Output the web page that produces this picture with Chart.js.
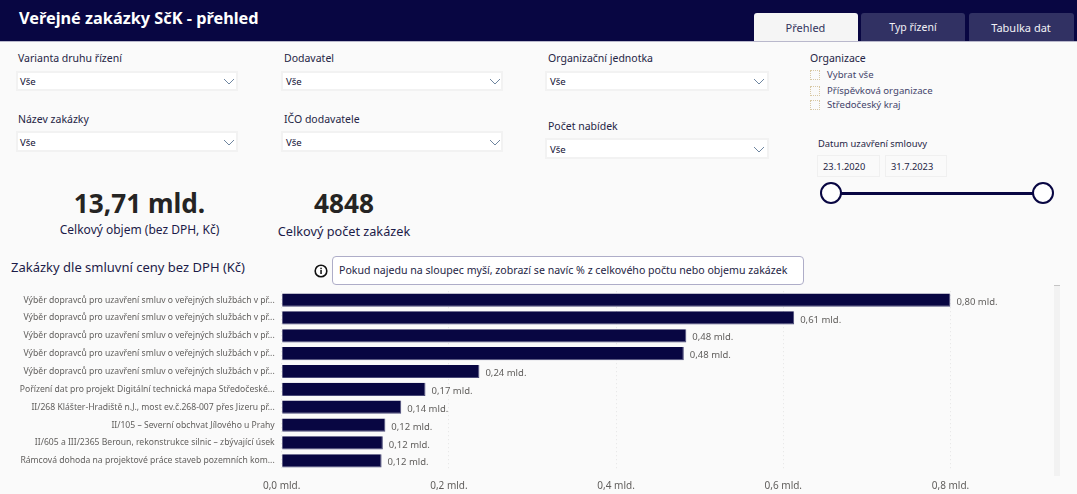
<!DOCTYPE html>
<html lang="cs"><head><meta charset="utf-8">
<script src="https://cdn.jsdelivr.net/npm/chart.js@4"></script>
<style>
html,body{margin:0;padding:0;width:1077px;height:494px;overflow:hidden;background:#fafafa;font-family:"Noto Sans",sans-serif;color:#12113f}
.a{position:absolute;white-space:nowrap}
.t{line-height:16px;transform:translateY(-50%)}
.lab{font-size:10.5px;color:#252545}
.box{background:#fff;border:2px solid #f2f2f2;box-sizing:border-box}
.vse{font-size:9.6px;color:#111133}
.tab{top:13px;height:27.5px;border-radius:3px 3px 0 0;text-align:center;line-height:29px;font-size:11px;background:#313163;color:#f2f2f6;box-sizing:border-box}
.cb{width:10px;height:10px;border:1px dotted #d8c8a4;box-sizing:border-box;left:810px}
.cbt{left:827px;font-size:9.6px;color:#44446a}
.kpi{font-size:26.2px;font-weight:700;color:#252423;transform:translate(-50%,-50%);line-height:32px}
.sub{font-size:12px;color:#1c1b48;transform:translate(-50%,-50%);line-height:16px}
.db{background:#fafafa;border:1px solid #f0f0f0;box-sizing:border-box;font-size:9.3px;color:#252545;line-height:21px;padding-left:5px}
.dot{width:22px;height:22px;border:2px solid #080642;border-radius:50%;background:#fff;box-sizing:border-box;top:182px}
svg.ch{position:absolute;width:12px;height:7px}
</style></head><body>
<div class="a" style="left:0;top:0;width:1077px;height:40.5px;background:#080642;border-bottom:1px solid #b9b8cc"></div>
<div class="a t" style="left:19px;top:18px;font-size:16.3px;font-weight:700;color:#fff">Veřejné zakázky SčK - přehled</div>
<div class="a tab" style="left:753.5px;width:104px;background:#f5f5f5;color:#33335c">Přehled</div>
<div class="a tab" style="left:861px;width:104px;font-size:10.5px">Typ řízení</div>
<div class="a tab" style="left:968.5px;width:105px">Tabulka dat</div>

<div class="a t lab" style="left:18px;top:58px">Varianta druhu řízení</div>
<div class="a box" style="left:16px;top:71px;width:222px;height:20px"></div>
<div class="a t vse" style="left:20px;top:82px">Vše</div>
<div class="a t lab" style="left:18px;top:119px">Název zakázky</div>
<div class="a box" style="left:16px;top:131px;width:222px;height:21px"></div>
<div class="a t vse" style="left:20px;top:143px">Vše</div>
<div class="a t lab" style="left:284px;top:58px">Dodavatel</div>
<div class="a box" style="left:281px;top:71px;width:222px;height:20px"></div>
<div class="a t vse" style="left:286px;top:82px">Vše</div>
<div class="a t lab" style="left:284px;top:119px">IČO dodavatele</div>
<div class="a box" style="left:281px;top:131px;width:222px;height:21px"></div>
<div class="a t vse" style="left:286px;top:143px">Vše</div>
<div class="a t lab" style="left:548px;top:58px">Organizační jednotka</div>
<div class="a box" style="left:545px;top:71px;width:224px;height:20px"></div>
<div class="a t vse" style="left:550px;top:82px">Vše</div>
<div class="a t lab" style="left:548px;top:126px">Počet nabídek</div>
<div class="a box" style="left:545px;top:138px;width:224px;height:21px"></div>
<div class="a t vse" style="left:550px;top:150px">Vše</div>
<svg class="ch" style="left:223px;top:78px" viewBox="0 0 12 7"><path d="M1 1l5 5 5-5" fill="none" stroke="#6f86a0"/></svg>
<svg class="ch" style="left:223px;top:139px" viewBox="0 0 12 7"><path d="M1 1l5 5 5-5" fill="none" stroke="#6f86a0"/></svg>
<svg class="ch" style="left:489px;top:78px" viewBox="0 0 12 7"><path d="M1 1l5 5 5-5" fill="none" stroke="#6f86a0"/></svg>
<svg class="ch" style="left:489px;top:139px" viewBox="0 0 12 7"><path d="M1 1l5 5 5-5" fill="none" stroke="#6f86a0"/></svg>
<svg class="ch" style="left:753px;top:78px" viewBox="0 0 12 7"><path d="M1 1l5 5 5-5" fill="none" stroke="#6f86a0"/></svg>
<svg class="ch" style="left:753px;top:146px" viewBox="0 0 12 7"><path d="M1 1l5 5 5-5" fill="none" stroke="#6f86a0"/></svg>

<div class="a t lab" style="left:810px;top:58px">Organizace</div>
<div class="a cb" style="top:70px"></div><div class="a t cbt" style="top:75.3px">Vybrat vše</div>
<div class="a cb" style="top:86px"></div><div class="a t cbt" style="top:90.7px">Příspěvková organizace</div>
<div class="a cb" style="top:100px"></div><div class="a t cbt" style="top:105.3px">Středočeský kraj</div>
<div class="a t" style="left:818px;top:143.5px;font-size:9.4px;color:#252545">Datum uzavření smlouvy</div>
<div class="a db" style="left:817px;top:155px;width:63px;height:22px">23.1.2020</div>
<div class="a db" style="left:885px;top:155px;width:62px;height:22px">31.7.2023</div>
<div class="a" style="left:833px;top:192px;width:213px;height:2.5px;background:#080642"></div>
<div class="a dot" style="left:820px"></div>
<div class="a dot" style="left:1032px"></div>

<div class="a kpi" style="left:139.5px;top:203px">13,71 mld.</div>
<div class="a sub" style="left:139.5px;top:229.5px">Celkový objem (bez DPH, Kč)</div>
<div class="a kpi" style="left:344px;top:203px">4848</div>
<div class="a sub" style="left:344px;top:231px;font-size:12.7px">Celkový počet zakázek</div>

<div class="a t" style="left:11px;top:266.7px;font-size:13px;color:#1c1b48">Zakázky dle smluvní ceny bez DPH (Kč)</div>
<svg class="a" style="left:314px;top:264px;width:14px;height:14px" viewBox="0 0 14 14"><circle cx="7" cy="7" r="5.8" fill="#fff" stroke="#111" stroke-width="1.6"/><rect x="6.3" y="6" width="1.5" height="4" fill="#111"/><rect x="6.3" y="3.7" width="1.5" height="1.5" fill="#111"/></svg>
<div class="a" style="left:332px;top:256px;width:472px;height:29px;background:#fff;border:1px solid #aeadc8;border-radius:4px;box-sizing:border-box;font-size:10.6px;line-height:27px;padding-left:6px;color:#252545">Pokud najedu na sloupec myší, zobrazí se navíc % z celkového počtu nebo objemu zakázek</div>

<div class="a" style="left:0;top:279px;width:1077px;height:215px"><canvas id="c" width="1077" height="215" style="display:block;width:1077px;height:215px"></canvas></div>
<div class="a" style="left:1054px;top:285px;width:6px;height:191px;background:#f2f2f2;border-top:1px solid #c4c4c4;box-sizing:border-box"></div>

<script>
const categories = [
 "Výběr dopravců pro uzavření smluv o veřejných službách v př...",
 "Výběr dopravců pro uzavření smluv o veřejných službách v př...",
 "Výběr dopravců pro uzavření smluv o veřejných službách v př...",
 "Výběr dopravců pro uzavření smluv o veřejných službách v př...",
 "Výběr dopravců pro uzavření smluv o veřejných službách v př...",
 "Pořízení dat pro projekt Digitální technická mapa Středočeské...",
 "II/268 Klášter-Hradiště n.J., most ev.č.268-007 přes Jizeru př...",
 "II/105 – Severní obchvat Jílového u Prahy",
 "II/605 a III/2365 Beroun, rekonstrukce silnic – zbývající úsek",
 "Rámcová dohoda na projektové práce staveb pozemních kom..."
];
const values = [0.80,0.613,0.484,0.481,0.2365,0.172,0.143,0.124,0.121,0.1195];
const valueLabels = ["0,80 mld.","0,61 mld.","0,48 mld.","0,48 mld.","0,24 mld.","0,17 mld.","0,14 mld.","0,12 mld.","0,12 mld.","0,12 mld."];
const xTicks = [0,0.2,0.4,0.6,0.8];
const xTickLabels = ["0,0 mld.","0,2 mld.","0,4 mld.","0,6 mld.","0,8 mld."];
const FONT = '"Noto Sans",sans-serif';

const barLabels = {
  id:'barLabels',
  afterDatasetsDraw(chart){
    const {ctx} = chart;
    ctx.save();
    ctx.font = '9.5px '+FONT;
    ctx.fillStyle = '#605e5c';
    ctx.textBaseline = 'middle';
    chart.getDatasetMeta(0).data.forEach((el,i)=>{
      ctx.fillText(valueLabels[i], el.x+6, el.y+2);
    });
    ctx.restore();
  }
};

new Chart(document.getElementById('c'),{
  type:'bar',
  plugins:[barLabels],
  data:{labels:categories,datasets:[{data:values,backgroundColor:'#080642',borderColor:'#4a4a78',borderWidth:{right:1,bottom:1},categoryPercentage:0.74,barPercentage:1}]},
  options:{
    indexAxis:'y',responsive:false,animation:false,devicePixelRatio:1,
    layout:{padding:{left:0,top:0.7,right:126.5,bottom:0}},
    plugins:{legend:{display:false},tooltip:{enabled:false},title:{display:false}},
    scales:{
      x:{min:0,max:0.8,
        afterBuildTicks(a){a.ticks = xTicks.map(v=>({value:v}));},
        afterFit(a){a.height=24.3;},
        grid:{color:'#e4e4e4',drawTicks:false,lineWidth:1},
        border:{display:false,dash:[1,3]},
        ticks:{padding:10,maxRotation:0,autoSkip:false,color:'#605e5c',font:{family:FONT,size:10},
          callback(v,i){return xTickLabels[i];}}
      },
      y:{
        afterFit(a){a.width=281.7;},
        grid:{display:false,drawTicks:false},border:{display:false},
        ticks:{padding:7,autoSkip:false,color:'#605e5c',font:{family:FONT,size:8.6}}
      }
    }
  }
});
</script>
</body></html>
